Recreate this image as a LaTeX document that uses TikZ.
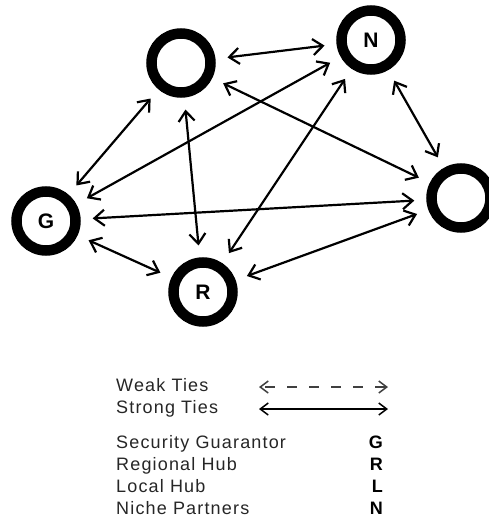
\documentclass[tikz,border=0pt]{standalone}
\usepackage{fontspec}
\setmainfont{Liberation Sans}
\newfontfamily\keyfont[LetterSpace=6.5]{Liberation Sans}
\usetikzlibrary{arrows.meta}

\tikzset{
  actor/.style={circle, draw, line width=10.5pt, minimum size=59pt, inner sep=0pt,
    font=\fontsize{21}{21}\selectfont\bfseries},
  tie/.style={{Straight Barb[length=10pt,width=16pt]}-{Straight Barb[length=10pt,width=16pt]},
    line width=2.2pt, shorten <=12pt, shorten >=12pt},
  keytie/.style={{Straight Barb[length=8pt,width=12pt]}-{Straight Barb[length=8pt,width=12pt]},
    line width=1.5pt},
  keytext/.style={font=\keyfont\fontsize{18}{20}\selectfont, text=black!85, inner sep=0pt},
  keyletter/.style={font=\fontsize{18}{20}\selectfont\bfseries, inner sep=0pt, anchor=base east}
}

\begin{document}
\begin{tikzpicture}[x=1pt,y=-1pt]
  \useasboundingbox (0,0) rectangle (489,519);

  % actors
  \node[actor] (top) at (181,63) {};
  \node[actor] (n) at (371,40) {N};
  \node[actor] (loc) at (461,198) {};
  \node[actor] (g) at (46,221) {G};
  \node[actor] (r) at (203,292) {R};

  % ties
  \draw[tie] (top) -- (n);
  \draw[tie] (top) -- (g);
  \draw[tie] (top) -- (r);
  \draw[tie] (top) -- (loc);
  \draw[tie] (n) -- (g);
  \draw[tie] (n) -- (r);
  \draw[tie] (n) -- (loc);
  \draw[tie] (g) -- (loc);
  \draw[tie] (g) -- (r);
  \draw[tie] (r) -- (loc);

  % key
  \node[keytext, anchor=base west] (weak) at (116,391) {Weak Ties};
  \node[keytext, anchor=base west] (strong) at (116,413) {Strong Ties};
  \coordinate (wa) at (259,387);
  \coordinate (wb) at (388,387);
  \coordinate (sa) at (259,409);
  \coordinate (sb) at (388,409);
  \draw[keytie, black!75, dash pattern=on 10pt off 12pt, dash phase=-4pt] (wa) -- (wb);
  \draw[keytie] (sa) -- (sb);

  \node[keytext, anchor=base west] (sg) at (116,448) {Security Guarantor};
  \node[keytext, anchor=base west] (rh) at (116,470) {Regional Hub};
  \node[keytext, anchor=base west] (lh) at (116,492) {Local Hub};
  \node[keytext, anchor=base west] (np) at (116,514) {Niche Partners};
  \node[keyletter] (kg) at (383,448) {G};
  \node[keyletter] (kr) at (383,470) {R};
  \node[keyletter] (kl) at (383,492) {L};
  \node[keyletter] (kn) at (383,514) {N};
\end{tikzpicture}
\end{document}
